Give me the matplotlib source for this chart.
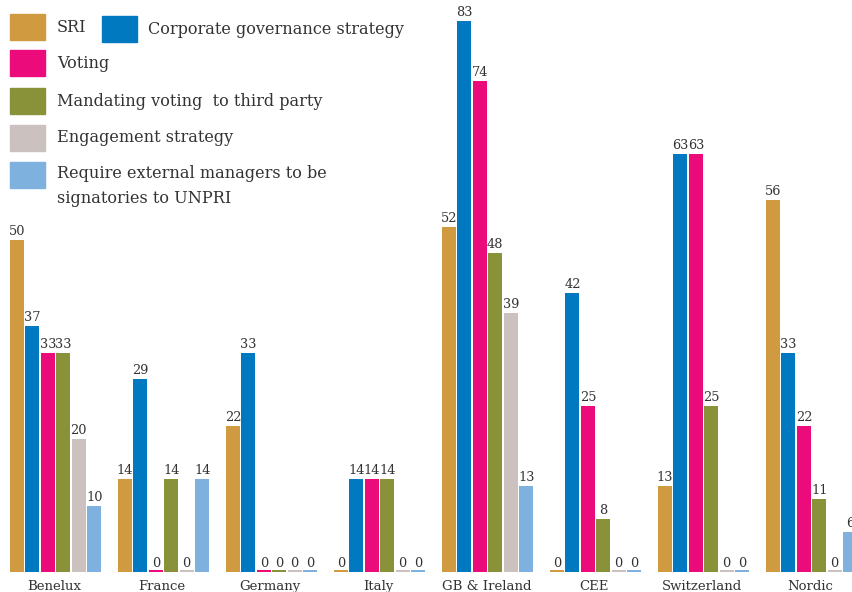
import matplotlib.pyplot as plt
from matplotlib.patches import Rectangle

regions = ["Benelux", "France", "Germany", "Italy", "GB & Ireland", "CEE", "Switzerland", "Nordic"]
series_names = ["SRI", "Corporate governance strategy", "Voting",
                "Mandating voting  to third party", "Engagement strategy",
                "Require external managers to be\nsignatories to UNPRI"]
sri = [50, 14, 22, 0, 52, 0, 13, 56]
corp_gov = [37, 29, 33, 14, 83, 42, 63, 33]
voting = [33, 0, 0, 14, 74, 25, 63, 22]
mandating = [33, 14, 0, 14, 48, 8, 25, 11]
engagement = [20, 0, 0, 0, 39, 0, 0, 0]
require_unpri = [10, 14, 0, 0, 13, 0, 0, 6]

colors = ["#D09A40", "#0079C1", "#EC0B7B", "#8A9239", "#CBC2BF", "#7FB1DF"]
series = [sri, corp_gov, voting, mandating, engagement, require_unpri]

W, H = 852, 592
fig = plt.figure(figsize=(W / 100, H / 100), dpi=100)
ax = fig.add_axes([0, 0, 1, 1])
ax.axis("off")

px_x = 108.0   # pixels per group
px_y = 6.64    # pixels per unit
ax.set_xlim(-10 / px_x, (W - 10) / px_x)
ax.set_ylim(-20 / px_y, (H - 20) / px_y)

serif = "DejaVu Serif"
bw = 0.13
for j, (vals, c) in enumerate(zip(series, colors)):
    for i, v in enumerate(vals):
        x = i + j / 7
        h = v if v > 0 else 0.25
        ax.bar(x, h, width=bw, align="edge", color=c, linewidth=0)
        ax.annotate(str(v), (x + bw / 2, v), xytext=(0, 1.5), textcoords="offset points",
                    ha="center", va="bottom", fontsize=9.3, family=serif, color="#333333")

for i, r in enumerate(regions):
    fig.text((10 + (i + 0.41) * px_x) / W, 1 - 590 / H, r, ha="center", va="baseline",
             fontsize=9.5, family=serif, color="#333333")

# legend
def legend_item(x, y, color, label, tx):
    fig.patches.append(Rectangle((x / W, 1 - (y + 26) / H), 35 / W, 26 / H,
                                 transform=fig.transFigure, color=color))
    fig.text(tx / W, 1 - (y + 13) / H, label, ha="left", va="center",
             fontsize=11.6, family=serif, color="#333333", linespacing=1.5)

legend_item(10, 14, colors[0], series_names[0], 57)
legend_item(102, 16, colors[1], series_names[1], 148)
legend_item(10, 50, colors[2], series_names[2], 57)
legend_item(10, 88, colors[3], series_names[3], 57)
legend_item(10, 125, colors[4], series_names[4], 57)
fig.patches.append(Rectangle((10 / W, 1 - 188 / H), 35 / W, 26 / H,
                             transform=fig.transFigure, color=colors[5]))
fig.text(57 / W, 1 - 186 / H, series_names[5], ha="left", va="center",
         fontsize=11.6, family=serif, color="#333333", linespacing=1.55)

fig.savefig("out.png", dpi=100)
